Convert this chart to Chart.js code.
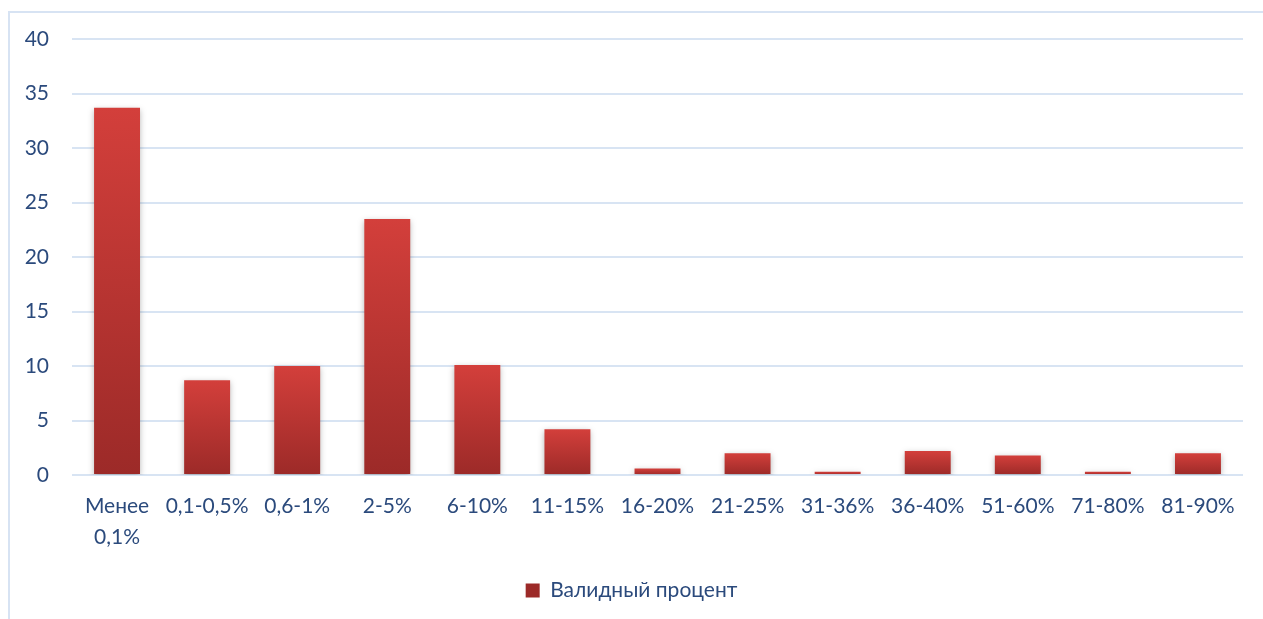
<!DOCTYPE html>
<html>
<head>
<meta charset="utf-8">
<script src="https://cdn.jsdelivr.net/npm/chart.js@4"></script>
<style>
  html, body { margin: 0; padding: 0; background: #ffffff; overflow: hidden; }
  #frame {
    position: absolute; left: 8px; top: 11px; width: 1300px; height: 700px;
    border-left: 2px solid #d7e3f3; border-top: 2px solid #d7e3f3;
  }
  #wrap { position: absolute; left: 0; top: 0; width: 1263px; height: 619px; }
</style>
</head>
<body>
<div id="frame"></div>
<div id="wrap"><canvas id="chart"></canvas></div>
<script>
// categories and values
var categories = [['Менее', '0,1%'], '0,1-0,5%', '0,6-1%', '2-5%', '6-10%', '11-15%', '16-20%',
  '21-25%', '31-36%', '36-40%', '51-60%', '71-80%', '81-90%'];
var validPercent = [33.7, 8.7, 10.0, 23.5, 10.1, 4.2, 0.6, 2.0, 0.3, 2.2, 1.8, 0.3, 2.0];
var yTicks = [0, 5, 10, 15, 20, 25, 30, 35, 40];
var seriesName = 'Валидный процент';

var textColor = '#2b4a7c';
var fontFamily = 'Lato, "Open Sans", sans-serif';

// each bar gets its own top-to-bottom gradient
function barGradient(context) {
    var chart = context.chart;
    var yScale = chart.scales.y;
    if (!yScale || !chart.chartArea) return '#c0392f';
    var value = context.raw;
    var top = yScale.getPixelForValue(value);
    var bottom = yScale.getPixelForValue(0);
    if (bottom - top < 1) return '#c83a36';
    var g = chart.ctx.createLinearGradient(0, top, 0, bottom);
    g.addColorStop(0, '#d33f3b');
    g.addColorStop(1, '#9c2a28');
    return g;
}

// soft shadow under the bars
var barShadow = {
    id: 'barShadow',
    beforeDatasetsDraw: function(chart) {
        var ctx = chart.ctx;
        ctx.save();
        ctx.shadowColor = 'rgba(0,0,0,0.28)';
        ctx.shadowBlur = 6;
        ctx.shadowOffsetX = 0;
        ctx.shadowOffsetY = 2;
    },
    afterDatasetsDraw: function(chart) {
        chart.ctx.restore();
    }
};

var ctx = document.getElementById('chart').getContext('2d');
new Chart(ctx, {
    type: 'bar',
    data: {
        labels: categories,
        datasets: [{
            label: seriesName,
            data: validPercent,
            backgroundColor: barGradient,
            borderWidth: 0,
            categoryPercentage: 1,
            barPercentage: 0.51
        }]
    },
    options: {
        responsive: true,
        maintainAspectRatio: false,
        animation: false,
        layout: { padding: { left: 20, right: 20, top: 39, bottom: 8 } },
        plugins: {
            tooltip: { enabled: false },
            legend: {
                position: 'bottom',
                labels: {
                    color: textColor,
                    font: { family: fontFamily, size: 21 },
                    boxWidth: 14,
                    boxHeight: 14,
                    padding: 20
                }
            }
        },
        scales: {
            x: {
                offset: true,
                grid: { display: false },
                border: { display: false },
                ticks: {
                    color: textColor,
                    font: { family: fontFamily, size: 21, lineHeight: 1.45 },
                    padding: 8,
                    maxRotation: 0,
                    autoSkip: false
                }
            },
            y: {
                min: 0,
                max: 40,
                afterBuildTicks: function(scale) {
                    scale.ticks = yTicks.map(function(v) { return { value: v }; });
                },
                afterFit: function(scale) { scale.width = 52; },
                grid: { color: '#d8e4f3', lineWidth: 2, drawTicks: false },
                border: { display: false },
                ticks: {
                    color: textColor,
                    font: { family: fontFamily, size: 21 },
                    padding: 23
                }
            }
        }
    },
    plugins: [barShadow]
});
</script>
</body>
</html>
